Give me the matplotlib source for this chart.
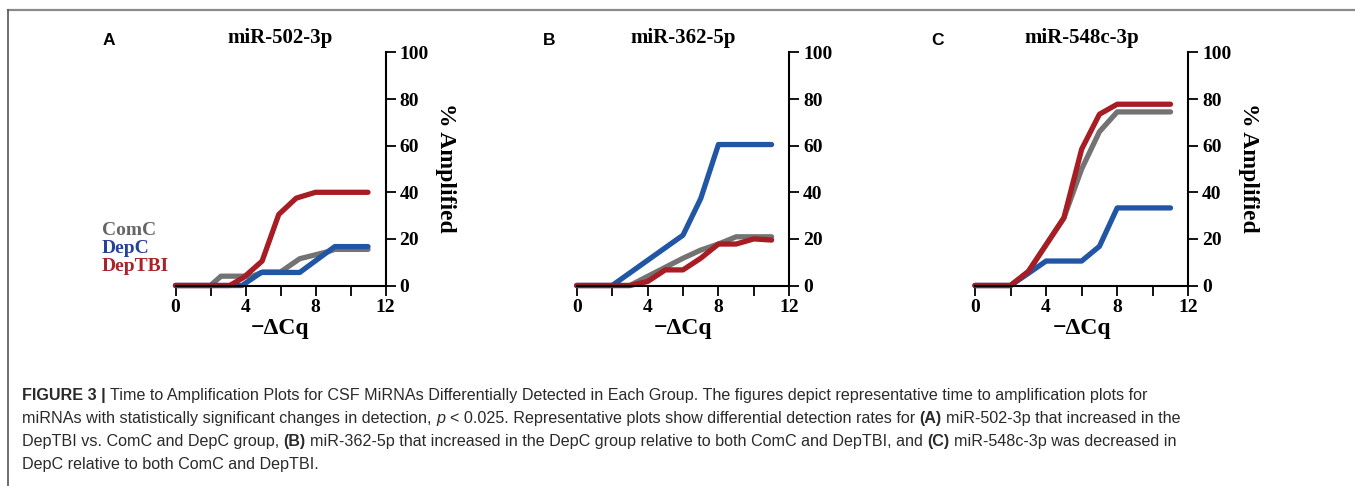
import matplotlib
matplotlib.use("Agg")
import matplotlib.pyplot as plt
from matplotlib.lines import Line2D

# ---------------- data ----------------
panel_letters = ["A", "B", "C"]
panel_titles = ["miR-502-3p", "miR-362-5p", "miR-548c-3p"]
series_names = ["ComC", "DepC", "DepTBI"]

# Panel A
a_comc_x = [0, 2, 2.6, 3.7, 4.4, 5, 6, 7.1, 8.7, 9.1, 11]
a_comc_y = [0, 0, 4, 4, 4, 5.8, 5.8, 11.5, 14.5, 15.5, 15.5]
a_depc_x = [0, 3.8, 4.9, 7.1, 9.1, 11]
a_depc_y = [0, 0, 5.6, 5.6, 16.7, 16.7]
a_deptbi_x = [0, 3.1, 3.9, 4.95, 5.9, 6.9, 8, 11]
a_deptbi_y = [0, 0, 3.5, 10.5, 30.5, 37.5, 40, 40]

# Panel B
b_x = [0, 1, 2, 3, 4, 5, 6, 7, 8, 9, 10, 11]
b_comc_y = [0, 0, 0, 0, 3.9, 7.8, 11.7, 15.2, 17.8, 20.9, 20.9, 20.9]
b_depc_y = [0, 0, 0, 5.4, 10.8, 16.2, 21.6, 37.3, 60.5, 60.5, 60.5, 60.5]
b_deptbi_y = [0, 0, 0, 0, 1.7, 6.7, 6.7, 11.7, 17.8, 17.8, 20, 19.5]

# Panel C
c_x = [0, 1, 2, 3, 4, 5, 6, 7, 8, 9, 10, 11]
c_comc_y = [0, 0, 0, 6, 17.5, 29, 50, 66, 74.5, 74.5, 74.5, 74.5]
c_depc_y = [0, 0, 0, 5.2, 10.5, 10.5, 10.5, 16.8, 33.3, 33.3, 33.3, 33.3]
c_deptbi_y = [0, 0, 0, 6, 17.5, 29, 58.5, 73.5, 77.8, 77.8, 77.8, 77.8]

x_ticks = [0, 2, 4, 6, 8, 10, 12]
x_ticklabels = ["0", "", "4", "", "8", "", "12"]
y_ticks = [0, 20, 40, 60, 80, 100]
y_ticklabels = ["0", "20", "40", "60", "80", "100"]

caption_lines = [
    [("FIGURE 3 |", "bold", "normal"),
     ("Time to Amplification Plots for CSF MiRNAs Differentially Detected in Each Group. The figures depict representative time to amplification plots for", "normal", "normal")],
    [("miRNAs with statistically significant changes in detection,", "normal", "normal"),
     ("p", "normal", "italic"),
     ("< 0.025. Representative plots show differential detection rates for", "normal", "normal"),
     ("(A)", "bold", "normal"),
     ("miR-502-3p that increased in the", "normal", "normal")],
    [("DepTBI vs. ComC and DepC group,", "normal", "normal"),
     ("(B)", "bold", "normal"),
     ("miR-362-5p that increased in the DepC group relative to both ComC and DepTBI, and", "normal", "normal"),
     ("(C)", "bold", "normal"),
     ("miR-548c-3p was decreased in", "normal", "normal")],
    [("DepC relative to both ComC and DepTBI.", "normal", "normal")],
]

# ---------------- style ----------------
W, H = 1355, 486
plt.rcParams["font.family"] = ["Liberation Serif", "DejaVu Serif"]
plt.rcParams["font.weight"] = "bold"

GRAY = "#737373"
BLUE = "#2156A5"
RED = "#A81C24"
colors = [GRAY, BLUE, RED]
legend_colors = ["#666666", "#27419A", "#A8232A"]

fig = plt.figure(figsize=(W / 100, H / 100), dpi=100)

def fx(px):
    return px / W

def fy(py):
    return 1 - py / H

top_px, bot_px = 52.5, 285.5
panels = [(175.5, 385.5), (576.7, 789.3), (975.0, 1188.3)]

data = [
    [(a_comc_x, a_comc_y), (a_depc_x, a_depc_y), (a_deptbi_x, a_deptbi_y)],
    [(b_x, b_comc_y), (b_x, b_depc_y), (b_x, b_deptbi_y)],
    [(c_x, c_comc_y), (c_x, c_depc_y), (c_x, c_deptbi_y)],
]

letter_x = [103, 543, 931]

for i, (l, r) in enumerate(panels):
    ax = fig.add_axes([fx(l), fy(bot_px), (r - l) / W, (bot_px - top_px) / H])
    for (xs, ys), c in zip(data[i], colors):
        ax.plot(xs, ys, color=c, lw=3.8, solid_capstyle="round",
                solid_joinstyle="round", clip_on=False)
    ax.set_xlim(0, 12)
    ax.set_ylim(0, 100)
    ax.spines["left"].set_visible(False)
    ax.spines["top"].set_visible(False)
    ax.spines["right"].set_linewidth(1.5)
    ax.spines["bottom"].set_linewidth(1.5)
    ax.yaxis.tick_right()
    ax.set_xticks(x_ticks)
    ax.set_xticklabels(x_ticklabels)
    ax.set_yticks(y_ticks)
    ax.set_yticklabels(y_ticklabels)
    ax.tick_params(axis="both", direction="out", length=7, width=1.3,
                   labelsize=14, pad=3)
    ax.patch.set_visible(False)
    cx = (l + r) / 2
    fig.text(fx(cx), fy(38), panel_titles[i], ha="center", va="center",
             fontsize=15, fontweight="bold")
    fig.text(fx(letter_x[i]), fy(45), panel_letters[i], ha="left", va="baseline",
             fontsize=12.5, fontweight="bold", family=["Liberation Sans", "DejaVu Sans"])
    fig.text(fx(cx), fy(328), "\u2212\u0394Cq", ha="center", va="center",
             fontsize=17, fontweight="bold")
    if i != 1:
        fig.text(fx(r + 60), fy(168), "% Amplified", ha="center", va="center",
                 rotation=270, fontsize=17, fontweight="bold")

# legend text in panel A
for name, c, yb in zip(series_names, legend_colors, [235, 253, 271]):
    fig.text(fx(102), fy(yb), name, ha="left", va="baseline", color=c,
             fontsize=14, fontweight="bold")

# frame lines
fig.add_artist(Line2D([fx(8), 1], [fy(10), fy(10)], color="#8a8a8a", lw=1.6))
fig.add_artist(Line2D([fx(8), fx(8)], [fy(10), 0], color="#555555", lw=1.2))

# caption
renderer = fig.canvas.get_renderer()
cap_kw = dict(fontsize=11.6, color="#2a2a2a", family=["Liberation Sans", "DejaVu Sans"],
              va="baseline", ha="left")

def text_width(s, weight, style):
    t = fig.text(0, 0, s, fontweight=weight, fontstyle=style, **cap_kw)
    w = t.get_window_extent(renderer=renderer).width
    t.remove()
    return w

space_w = text_width("a a", "normal", "normal") - text_width("aa", "normal", "normal")

baselines = [400, 423, 446, 469]
for segs, yb in zip(caption_lines, baselines):
    xpix = 22.0
    for j, (s, weight, style) in enumerate(segs):
        t = fig.text(fx(xpix), fy(yb), s, fontweight=weight, fontstyle=style, **cap_kw)
        xpix += t.get_window_extent(renderer=renderer).width + space_w

fig.savefig("out.png", dpi=100)
